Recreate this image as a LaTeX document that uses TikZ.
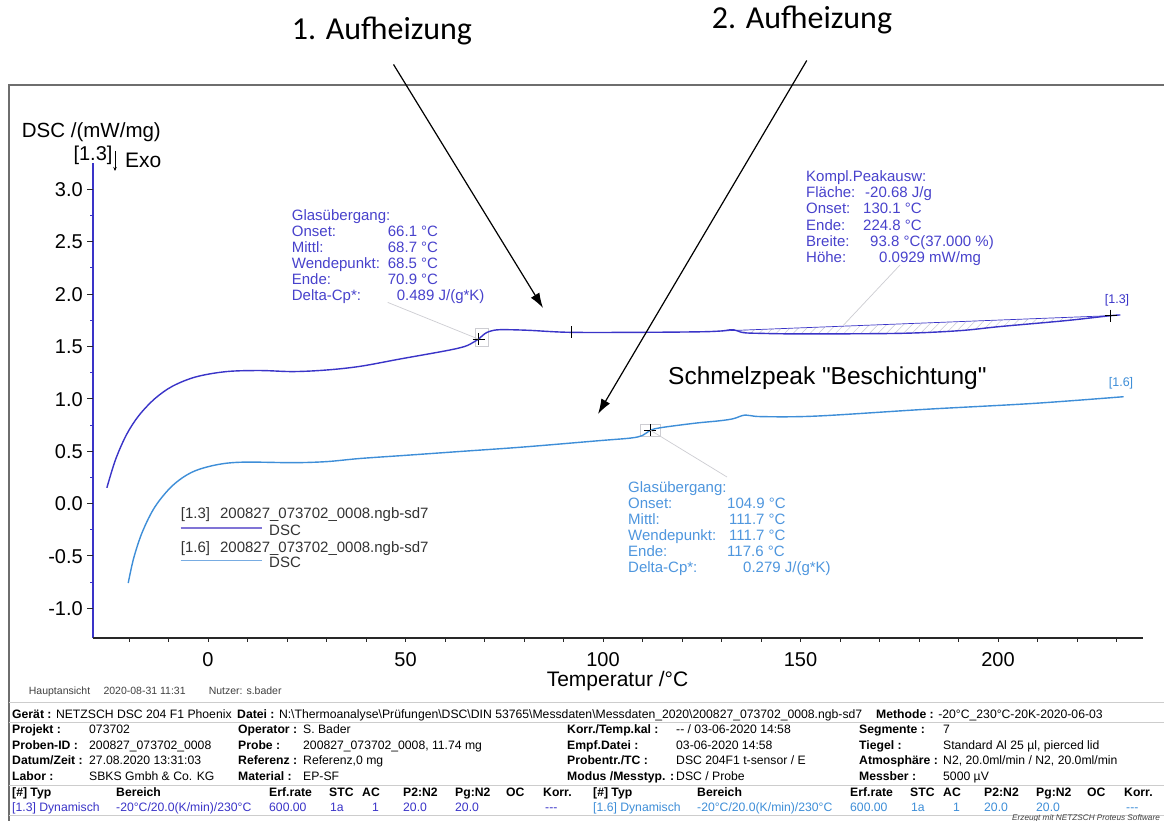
\documentclass[tikz,border=0pt]{standalone}
\usepackage{fontspec}
\setmainfont{Liberation Sans}[Ligatures=TeXOff]
\newfontfamily\aufschrift{Carlito}
\usetikzlibrary{arrows.meta,patterns.meta}
\definecolor{dscA}{RGB}{58,52,200}
\definecolor{dscB}{RGB}{62,142,216}
\definecolor{txtA}{RGB}{72,66,204}
\definecolor{txtB}{RGB}{78,150,222}
\definecolor{legA}{RGB}{128,116,214}
\definecolor{legB}{RGB}{120,172,226}
\definecolor{leadgrey}{RGB}{205,205,210}
\definecolor{hatchgrey}{RGB}{200,200,212}
\definecolor{rulegrey}{RGB}{205,205,205}
\definecolor{framegrey}{RGB}{110,110,110}
\definecolor{axisgrey}{RGB}{40,40,40}

\begin{document}
\begin{tikzpicture}[x=1pt,y=-1pt,
    lbl/.style={inner sep=0,font=\fontsize{20}{24}\selectfont},
    gl/.style={anchor=base west,inner sep=0,font=\fontsize{15}{16}\selectfont},
    tab/.style={anchor=base west,inner sep=0,font=\fontsize{12.2}{14}\selectfont},
    tick/.style={axisgrey,line width=0.9pt},
    lead/.style={leadgrey,line width=0.7pt},
    kreuz/.style={black,line width=0.9pt},
    aufpfeil/.style={black,line width=1.2pt,-{Latex[length=15pt,width=10pt]}}]
    \useasboundingbox (0,0) rectangle (1164,821);
    \clip (0,0) rectangle (1164,821);
    \fill[white] (0,0) rectangle (1164,821);

    \node[anchor=base,inner sep=0,font=\aufschrift\fontsize{32}{36}\selectfont] (auf1) at (382,40) {1. Aufheizung};
    \node[anchor=base,inner sep=0,font=\aufschrift\fontsize{32}{36}\selectfont] (auf2) at (802,29) {2. Aufheizung};

    \draw[framegrey,line width=1.8pt] (1170,85) -- (9,85) -- (9,830);

    \node[lbl,anchor=base west,font=\fontsize{20.5}{24}\selectfont] (ylab) at (21.7,137.3) {DSC /(mW/mg)};
    \node[lbl] (kurv) at (93,155) {[1.3]};
    \draw[black,line width=0.8pt,-{Stealth[length=4pt,width=3.5pt]}] (115,151) -- (115,171);
    \node[lbl,anchor=base west,font=\fontsize{21}{24}\selectfont] (exo) at (125,167.5) {Exo};
    \node[lbl,anchor=base,font=\fontsize{21}{24}\selectfont] (xlab) at (617.5,686) {Temperatur /°C};

    \draw[dscA,line width=1.3pt] (93,638) -- (93,163);
    \draw[axisgrey,line width=1.2pt] (93,638) -- (1143,638);
    \foreach \v in {-1.0,-0.5,0.0,0.5,1.0,1.5,2.0,2.5,3.0} {
        \draw[tick] (93,{503.5-104.7*\v}) -- ++(-6,0);
        \node[lbl,anchor=base east] at (83,{503.5-104.7*\v+7.2}) {\v};
    }
    \foreach \v in {-0.75,-0.25,0.25,0.75,1.25,1.75,2.25,2.75}
        \draw[dscA,line width=0.9pt] (93,{503.5-104.7*\v}) -- ++(-3,0);
    \foreach \t in {-20,-10,...,230}
        \draw[tick] ({208+3.95*\t},638) -- ++(0,4);
    \foreach \t in {0,50,...,200}
        \node[lbl,anchor=base] at ({208+3.95*\t},666) {\t};

    \begin{scope}[shift={(208,503.5)},x=3.95pt,y=104.7pt]
        \path[pattern={Lines[angle=45,distance=6pt,line width=0.5pt]},pattern color=hatchgrey]
            plot[smooth,tension=0.5] coordinates {(130,1.648) (133,1.66) (135.5,1.632) (140,1.625) (150,1.62)
            (175,1.625) (190,1.65) (200.5,1.69) (217,1.746) (228.5,1.794)} -- cycle;
        \draw[dscA,line width=0.7pt] (130,1.648) -- (228.5,1.794);
        \draw[leadgrey,line width=0.7pt] (67.6,1.50) rectangle (70.9,1.67);
        \draw[leadgrey,line width=0.7pt] (109.5,0.64) rectangle (114.5,0.76);
        \draw[dscA,line width=1.4pt] plot[smooth,tension=0.55] coordinates {(-25.6,0.15) (-23.4,0.42) (-20.6,0.66)
            (-17.5,0.84) (-13.5,1.00) (-9.0,1.12) (-3,1.21) (4.7,1.26) (13.2,1.27) (21.6,1.26) (30,1.275)
            (38.5,1.31) (48.6,1.38) (60.4,1.46) (65,1.50) (67.2,1.54) (68.5,1.57) (70,1.62) (71.4,1.645)
            (73.9,1.66) (80.7,1.655) (91.6,1.635) (110,1.635) (124.6,1.64) (130,1.648) (133,1.66) (135.5,1.632)
            (140,1.625) (150,1.62) (175,1.625) (190,1.65) (200.5,1.69) (217,1.746) (228.5,1.794) (231,1.80)};
        \draw[dscB,line width=1.4pt] plot[smooth,tension=0.55] coordinates {(-20.2,-0.76) (-18.8,-0.52)
            (-16.6,-0.27) (-13.4,-0.03) (-9,0.17) (-4,0.30) (2.2,0.37) (8.9,0.395) (21.6,0.39) (30,0.40)
            (38.5,0.43) (50,0.46) (65,0.50) (80,0.54) (99,0.60) (107,0.625) (110,0.65) (112,0.70) (114,0.72)
            (117.6,0.74) (124,0.77) (129.5,0.79) (133,0.81) (136,0.845) (140,0.83) (154,0.835) (181.8,0.90)
            (209,0.956) (231.8,1.02)};
        \coordinate (m1) at (68.5,1.57);
        \coordinate (m1b) at (92,1.635);
        \coordinate (m1e) at (228.5,1.794);
        \coordinate (m2) at (112,0.70);
        \coordinate (pk) at (160.8,1.70);
    \end{scope}

    \draw[kreuz] (m1) +(-6,0) -- +(6,0) +(0,-6) -- +(0,6);
    \draw[kreuz] (m1b) +(0,-6) -- +(0,6);
    \draw[kreuz] (m1e) +(-6,0) -- +(6,0) +(0,-6) -- +(0,6);
    \draw[kreuz] (m2) +(-6,0) -- +(6,0) +(0,-6) -- +(0,6);

    \node[font=\fontsize{12.5}{14}\selectfont,text=dscA,inner sep=0] (lab13) at (1117,300.7) {[1.3]};
    \node[font=\fontsize{12.5}{14}\selectfont,text=dscB,inner sep=0] (lab16) at (1121,383.5) {[1.6]};
    \node[anchor=base west,inner sep=0,font=\fontsize{24.5}{28}\selectfont] (schmelz) at (668,384.8) {Schmelzpeak "Beschichtung"};

    \node[gl,text=txtA] (g1a) at (291.7,220.4) {Glasübergang:};
    \node[gl,text=txtA] (g1b) at (291.7,236.4) {\makebox[96pt][l]{Onset:}66.1 °C};
    \node[gl,text=txtA] (g1c) at (291.7,252.4) {\makebox[96pt][l]{Mittl:}68.7 °C};
    \node[gl,text=txtA] (g1d) at (291.7,268.4) {\makebox[96pt][l]{Wendepunkt:}68.5 °C};
    \node[gl,text=txtA] (g1e) at (291.7,284.4) {\makebox[96pt][l]{Ende:}70.9 °C};
    \node[gl,text=txtA] (g1f) at (291.7,300.4) {\makebox[105pt][l]{Delta-Cp*:}0.489 J/(g*K)};

    \node[gl,text=txtA] (g2a) at (806,182) {Kompl.Peakausw:};
    \node[gl,text=txtA] (g2b) at (806,198) {\makebox[59pt][l]{Fläche:}-20.68 J/g};
    \node[gl,text=txtA] (g2c) at (806,214) {\makebox[57pt][l]{Onset:}130.1 °C};
    \node[gl,text=txtA] (g2d) at (806,230) {\makebox[57pt][l]{Ende:}224.8 °C};
    \node[gl,text=txtA] (g2e) at (806,246) {\makebox[64pt][l]{Breite:}93.8 °C(37.000 \%)};
    \node[gl,text=txtA] (g2f) at (806,262) {\makebox[73pt][l]{Höhe:}0.0929 mW/mg};

    \node[gl,text=txtB] (g3a) at (628,492) {Glasübergang:};
    \node[gl,text=txtB] (g3b) at (628,508) {\makebox[99pt][l]{Onset:}104.9 °C};
    \node[gl,text=txtB] (g3c) at (628,524) {\makebox[101pt][l]{Mittl:}111.7 °C};
    \node[gl,text=txtB] (g3d) at (628,540) {\makebox[101pt][l]{Wendepunkt:}111.7 °C};
    \node[gl,text=txtB] (g3e) at (628,556) {\makebox[99pt][l]{Ende:}117.6 °C};
    \node[gl,text=txtB] (g3f) at (628,572) {\makebox[115pt][l]{Delta-Cp*:}0.279 J/(g*K)};

    \draw[lead] ([xshift=96pt,yshift=-2pt]g1f.base west) -- (m1);
    \draw[lead] ([xshift=94pt,yshift=-3pt]g2f.base west) -- (pk);
    \draw[lead] (m2) -- ([xshift=99pt,yshift=15pt]g3a.base west);

    \node[gl,text=black!80] (leg1) at (180.7,518.4) {[1.3]\hspace{10pt}200827\_073702\_0008.ngb-sd7};
    \draw[legA,line width=1.2pt] (180.7,528) -- (261.7,528);
    \node[gl,text=black!80] (leg1d) at (269,535.4) {DSC};
    \node[gl,text=black!80] (leg2) at (180.7,552) {[1.6]\hspace{10pt}200827\_073702\_0008.ngb-sd7};
    \draw[legB,line width=1.2pt] (180.7,560.7) -- (261.7,560.7);
    \node[gl,text=black!80] (leg2d) at (269,567) {DSC};

    \draw[aufpfeil,shorten <=22pt] (auf1.south) -- (543,308) coordinate (tip1);
    \draw[aufpfeil,shorten <=30pt] ([xshift=20pt]auf2.south) -- (598,414) coordinate (tip2);

    \node[tab,font=\fontsize{10.5}{12}\selectfont,text=black!75] (haupt) at (28.7,694) {Hauptansicht};
    \node[tab,font=\fontsize{10.5}{12}\selectfont,text=black!75] (zeit) at (103.3,694) {2020-08-31 11:31};
    \node[tab,font=\fontsize{10.5}{12}\selectfont,text=black!75] (nutzer) at (208.6,694) {Nutzer: s.bader};

    \draw[rulegrey,line width=1pt] (9,702) -- (1164,702);
    \draw[rulegrey,line width=1pt] (9,722) -- (1164,722);
    \draw[rulegrey,line width=1pt] (9,785) -- (1164,785);
    \draw[rulegrey,line width=1pt] (9,815) -- (1164,815);

    \node[tab] (t01) at (12,718) {\textbf{Gerät :} NETZSCH DSC 204 F1 Phoenix};
    \node[tab] (t02) at (237,718) {\textbf{Datei :} N:\textbackslash{}Thermoanalyse\textbackslash{}Prüfungen\textbackslash{}DSC\textbackslash{}DIN 53765\textbackslash{}Messdaten\textbackslash{}Messdaten\_2020\textbackslash{}200827\_073702\_0008.ngb-sd7};
    \node[tab] (t03) at (876,718) {\textbf{Methode :} -20°C\_230°C-20K-2020-06-03};

    \node[tab] (t11) at (12,733.6) {\textbf{Projekt :}};
    \node[tab] (t12) at (89,733.6) {073702};
    \node[tab] (t13) at (238,733.6) {\textbf{Operator :}};
    \node[tab] (t14) at (303,733.6) {S. Bader};
    \node[tab] (t15) at (567,733.6) {\textbf{Korr./Temp.kal :}};
    \node[tab] (t16) at (676,733.6) {-{}- / 03-06-2020 14:58};
    \node[tab] (t17) at (859,733.6) {\textbf{Segmente :}};
    \node[tab] (t18) at (943,733.6) {7};

    \node[tab] (t21) at (12,749.2) {\textbf{Proben-ID :}};
    \node[tab] (t22) at (89,749.2) {200827\_073702\_0008};
    \node[tab] (t23) at (238,749.2) {\textbf{Probe :}};
    \node[tab] (t24) at (303,749.2) {200827\_073702\_0008, 11.74 mg};
    \node[tab] (t25) at (567,749.2) {\textbf{Empf.Datei :}};
    \node[tab] (t26) at (676,749.2) {03-06-2020 14:58};
    \node[tab] (t27) at (859,749.2) {\textbf{Tiegel :}};
    \node[tab] (t28) at (943,749.2) {Standard Al 25 µl, pierced lid};

    \node[tab] (t31) at (12,764.8) {\textbf{Datum/Zeit :}};
    \node[tab] (t32) at (89,764.8) {27.08.2020 13:31:03};
    \node[tab] (t33) at (238,764.8) {\textbf{Referenz :}};
    \node[tab] (t34) at (303,764.8) {Referenz,0 mg};
    \node[tab] (t35) at (567,764.8) {\textbf{Probentr./TC :}};
    \node[tab] (t36) at (676,764.8) {DSC 204F1 t-sensor / E};
    \node[tab] (t37) at (859,764.8) {\textbf{Atmosphäre :}};
    \node[tab] (t38) at (943,764.8) {N2, 20.0ml/min / N2, 20.0ml/min};

    \node[tab] (t41) at (12,780.4) {\textbf{Labor :}};
    \node[tab] (t42) at (89,780.4) {SBKS Gmbh \& Co. KG};
    \node[tab] (t43) at (238,780.4) {\textbf{Material :}};
    \node[tab] (t44) at (303,780.4) {EP-SF};
    \node[tab] (t45) at (567,780.4) {\textbf{Modus /Messtyp. :}};
    \node[tab] (t46) at (676,780.4) {DSC / Probe};
    \node[tab] (t47) at (859,780.4) {\textbf{Messber :}};
    \node[tab] (t48) at (943,780.4) {5000 µV};

    \foreach \dx/\nm in {0/a,581/b} {
        \node[tab,font=\fontsize{12.2}{14}\selectfont\bfseries] (h1\nm) at (12+\dx,796) {[\#] Typ};
        \node[tab,font=\fontsize{12.2}{14}\selectfont\bfseries] (h2\nm) at (116+\dx,796) {Bereich};
        \node[tab,font=\fontsize{12.2}{14}\selectfont\bfseries] (h3\nm) at (269+\dx,796) {Erf.rate};
        \node[tab,font=\fontsize{12.2}{14}\selectfont\bfseries] (h4\nm) at (329+\dx,796) {STC};
        \node[tab,font=\fontsize{12.2}{14}\selectfont\bfseries] (h5\nm) at (362+\dx,796) {AC};
        \node[tab,font=\fontsize{12.2}{14}\selectfont\bfseries] (h6\nm) at (403+\dx,796) {P2:N2};
        \node[tab,font=\fontsize{12.2}{14}\selectfont\bfseries] (h7\nm) at (455+\dx,796) {Pg:N2};
        \node[tab,font=\fontsize{12.2}{14}\selectfont\bfseries] (h8\nm) at (506+\dx,796) {OC};
        \node[tab,font=\fontsize{12.2}{14}\selectfont\bfseries] (h9\nm) at (543+\dx,796) {Korr.};
    }
    \foreach \dx/\nm/\kurve/\farbe in {0/a/1.3/dscA,581/b/1.6/dscB} {
        \node[tab,text=\farbe] (d1\nm) at (12+\dx,811.6) {[\kurve] Dynamisch};
        \node[tab,text=\farbe] (d2\nm) at (116+\dx,811.6) {-20°C/20.0(K/min)/230°C};
        \node[tab,text=\farbe] (d3\nm) at (269+\dx,811.6) {600.00};
        \node[tab,text=\farbe] (d4\nm) at (330+\dx,811.6) {1a};
        \node[tab,text=\farbe] (d5\nm) at (372+\dx,811.6) {1};
        \node[tab,text=\farbe] (d6\nm) at (403+\dx,811.6) {20.0};
        \node[tab,text=\farbe] (d7\nm) at (455+\dx,811.6) {20.0};
        \node[tab,text=\farbe] (d8\nm) at (545+\dx,811.6) {-{}-{}-};
    }
    \node[tab,font=\fontsize{8.2}{10}\selectfont\itshape,text=black!75] (erzeugt) at (1012,820) {Erzeugt mit NETZSCH Proteus Software};
\end{tikzpicture}
\end{document}
